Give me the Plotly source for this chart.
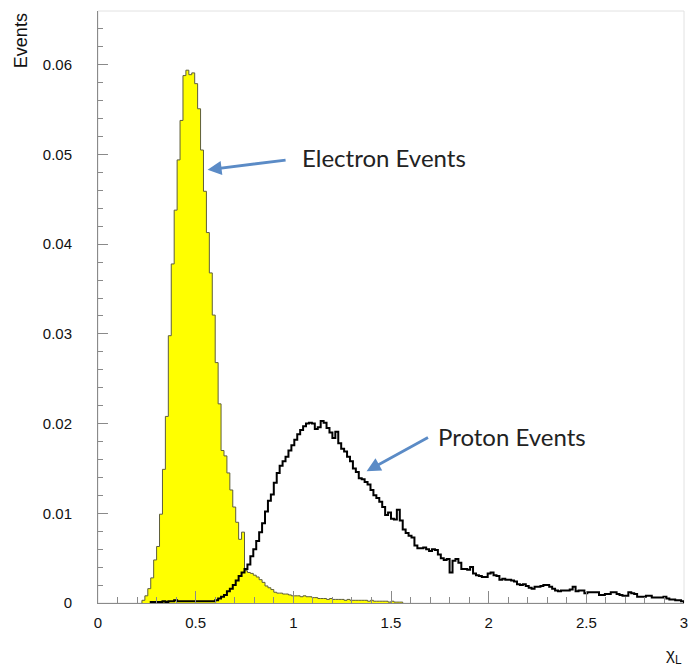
import numpy as np
import plotly.graph_objects as go

# Histogram binning of the chi_L variable
x_min, x_max, n_bins = 0.0, 3.0, 200

# Normalised event fractions per bin (200 bins, width 0.015)
electron_events = [
    0, 0, 0, 0, 0, 0, 0, 0, 0, 0,
    0, 0, 0, 0, 0, 0.0003, 0.0008, 0.0016, 0.0028, 0.0048,
    0.0063, 0.0099, 0.0149, 0.0208, 0.0298, 0.0378, 0.0438, 0.0494, 0.0538, 0.0588,
    0.0594, 0.0589, 0.0591, 0.0579, 0.0551, 0.0505, 0.0459, 0.0413, 0.0368, 0.0321,
    0.0268, 0.0222, 0.0170, 0.0164, 0.0145, 0.0126, 0.0107, 0.0090, 0.0071, 0.0079,
    0.0036, 0.0034, 0.0033, 0.0031, 0.0029, 0.0026, 0.0023, 0.0019, 0.0017, 0.0015,
    0.0012, 0.0011, 0.0011, 0.0010, 0.0010, 0.0009, 0.0008, 0.0008, 0.0008, 0.0007,
    0.0008, 0.0007, 0.0007, 0.0006, 0.0006, 0.0005, 0.0005, 0.0005, 0.0004, 0.0005,
    0.0004, 0.0004, 0.0004, 0.0004, 0.0003, 0.0004, 0.0003, 0.0003, 0.0003, 0.0003,
    0.0003, 0.0003, 0.0002, 0.0003, 0.0002, 0.0002, 0.0002, 0.0002, 0.0002, 0.0001,
    0.0002, 0.0001, 0.0001, 0.0001, 0, 0, 0, 0, 0, 0,
    0, 0, 0, 0, 0, 0, 0, 0, 0, 0,
    0, 0, 0, 0, 0, 0, 0, 0, 0, 0,
    0, 0, 0, 0, 0, 0, 0, 0, 0, 0,
    0, 0, 0, 0, 0, 0, 0, 0, 0, 0,
    0, 0, 0, 0, 0, 0, 0, 0, 0, 0,
    0, 0, 0, 0, 0, 0, 0, 0, 0, 0,
    0, 0, 0, 0, 0, 0, 0, 0, 0, 0,
    0, 0, 0, 0, 0, 0, 0, 0, 0, 0,
    0, 0, 0, 0, 0, 0, 0, 0, 0, 0,
]

proton_events = [
    0, 0, 0, 0, 0, 0, 0, 0, 0, 0,
    0, 0, 0, 0, 0, 0, 0, 0, 0.0001, 0.0001,
    0.0001, 0.0001, 0.0002, 0.0001, 0.0002, 0.0002, 0.0003, 0.0002, 0.0002, 0.0002,
    0.0002, 0.0002, 0.0002, 0.0002, 0.0002, 0.0002, 0.0002, 0.0002, 0.0002, 0.0002,
    0.0003, 0.0005, 0.0007, 0.0009, 0.0013, 0.0016, 0.0020, 0.0025, 0.0030, 0.0034,
    0.0038, 0.0043, 0.0052, 0.0060, 0.0069, 0.0079, 0.0089, 0.0102, 0.0114, 0.0121,
    0.0134, 0.0145, 0.0153, 0.0158, 0.0163, 0.0170, 0.0176, 0.0182, 0.0188, 0.0193,
    0.0197, 0.0200, 0.0201, 0.0200, 0.0194, 0.0196, 0.0203, 0.0201, 0.0195, 0.0190,
    0.0184, 0.0191, 0.0178, 0.0172, 0.0169, 0.0163, 0.0158, 0.0150, 0.0146, 0.0139,
    0.0138, 0.0135, 0.0132, 0.0126, 0.0120, 0.0117, 0.0113, 0.0107, 0.0098, 0.0101,
    0.0094, 0.0093, 0.0104, 0.0092, 0.0082, 0.0078, 0.0075, 0.0073, 0.0064, 0.0061,
    0.0061, 0.0062, 0.0060, 0.0058, 0.0060, 0.0059, 0.0054, 0.0050, 0.0048, 0.0049,
    0.0034, 0.0047, 0.0049, 0.0045, 0.0038, 0.0038, 0.0037, 0.0040, 0.0033, 0.0031,
    0.0030, 0.0029, 0.0029, 0.0033, 0.0034, 0.0031, 0.0030, 0.0026, 0.0027, 0.0026,
    0.0026, 0.0025, 0.0024, 0.0021, 0.0020, 0.0021, 0.0019, 0.0017, 0.0016, 0.0018,
    0.0018, 0.0019, 0.0020, 0.0020, 0.0018, 0.0016, 0.0014, 0.0013, 0.0014, 0.0014,
    0.0014, 0.0015, 0.0018, 0.0013, 0.0014, 0.0014, 0.0011, 0.0012, 0.0012, 0.0012,
    0.0012, 0.0009, 0.0009, 0.0010, 0.0010, 0.0012, 0.0012, 0.0010, 0.0009, 0.0008,
    0.0008, 0.0012, 0.0011, 0.0010, 0.0007, 0.0007, 0.0007, 0.0008, 0.0008, 0.0006,
    0.0006, 0.0006, 0.0006, 0.0007, 0.0005, 0.0004, 0.0004, 0.0003, 0.0003, 0.0002,
]

x_ticks = [0, 0.5, 1, 1.5, 2, 2.5, 3]
x_tick_labels = ["0", "0.5", "1", "1.5", "2", "2.5", "3"]
y_ticks = [0, 0.01, 0.02, 0.03, 0.04, 0.05, 0.06]
y_tick_labels = ["0", "0.01", "0.02", "0.03", "0.04", "0.05", "0.06"]

edges = np.linspace(x_min, x_max, n_bins + 1)


def step_outline(values):
    """Return x/y points of a histogram outline (for 'hv' line shape)."""
    vals = np.asarray(values, dtype=float)
    nz = np.nonzero(vals)[0]
    lo, hi = nz[0], nz[-1] + 1
    xs = [edges[lo]] + list(edges[lo:hi]) + [edges[hi], edges[hi]]
    ys = [0.0] + list(vals[lo:hi]) + [vals[hi - 1], 0.0]
    return xs, ys


ex, ey = step_outline(electron_events)
px, py = step_outline(proton_events)

fig = go.Figure()
fig.add_trace(go.Scatter(
    x=ex, y=ey, mode="lines", line_shape="hv",
    fill="tozeroy", fillcolor="#ffff00",
    line=dict(color="#5e5e3a", width=1),
    name="Electron Events", hoverinfo="skip",
))
fig.add_trace(go.Scatter(
    x=px, y=py, mode="lines", line_shape="hv",
    line=dict(color="#000000", width=2),
    name="Proton Events", hoverinfo="skip",
))

tick_font = dict(family="Liberation Sans, Arial, sans-serif", size=15, color="#111111")
title_font = dict(family="Liberation Sans, Arial, sans-serif", size=18, color="#111111")
note_font = dict(family="Lato, Open Sans, sans-serif", size=24, color="#222222")
arrow_color = "#5b8bc6"

fig.update_layout(
    width=693, height=672,
    margin=dict(l=98, r=5, t=11, b=69),
    paper_bgcolor="white", plot_bgcolor="white",
    showlegend=False,
    xaxis=dict(
        range=[x_min, x_max], showgrid=False, zeroline=False,
        showline=True, linecolor="#8a8a8a", linewidth=1,
        tickmode="array", tickvals=x_ticks, ticktext=x_tick_labels,
        ticks="inside", ticklen=12, tickcolor="#8a8a8a", tickwidth=1,
        minor=dict(dtick=0.1, ticks="inside", ticklen=6, tickcolor="#8a8a8a"),
        tickfont=tick_font, ticklabelstandoff=6,
    ),
    yaxis=dict(
        range=[0, 0.066], showgrid=False, zeroline=False,
        showline=True, linecolor="#8a8a8a", linewidth=1,
        tickmode="array", tickvals=y_ticks, ticktext=y_tick_labels,
        ticks="inside", ticklen=10, tickcolor="#8a8a8a", tickwidth=1,
        minor=dict(dtick=0.002, ticks="inside", ticklen=5, tickcolor="#8a8a8a"),
        tickfont=tick_font, ticklabelstandoff=22,
    ),
)

# light frame around the plotting area
fig.add_shape(type="rect", xref="paper", yref="paper", x0=0, y0=0, x1=1, y1=1,
              line=dict(color="#e2e2e2", width=1), layer="below")

# axis titles
fig.add_annotation(text="Events", xref="paper", yref="paper", x=-0.132, y=1.0,
                   xanchor="center", yanchor="top", textangle=-90, showarrow=False,
                   font=title_font)
fig.add_annotation(text="χ<sub>L</sub>", xref="paper", yref="paper", x=1.0, y=-0.112,
                   xanchor="right", yanchor="bottom", showarrow=False,
                   font=dict(family="Liberation Sans, Arial, sans-serif", size=17, color="#111111"))

# callout labels with arrows
fig.add_annotation(text="Electron Events", x=1.033, y=0.0497, xref="x", yref="y",
                   xanchor="left", yanchor="middle", showarrow=False, font=note_font)
fig.add_annotation(text="", x=0.561, y=0.0483, ax=0.968, ay=0.0494, xref="x", yref="y",
                   axref="x", ayref="y", showarrow=True, arrowhead=2, arrowsize=1,
                   arrowwidth=2.8, arrowcolor=arrow_color, standoff=0)
fig.add_annotation(text="Proton Events", x=1.73, y=0.0186, xref="x", yref="y",
                   xanchor="left", yanchor="middle", showarrow=False, font=note_font)
fig.add_annotation(text="", x=1.375, y=0.0147, ax=1.697, ay=0.01855, xref="x", yref="y",
                   axref="x", ayref="y", showarrow=True, arrowhead=2, arrowsize=1,
                   arrowwidth=2.8, arrowcolor=arrow_color, standoff=0)

fig.write_html("out.html")
